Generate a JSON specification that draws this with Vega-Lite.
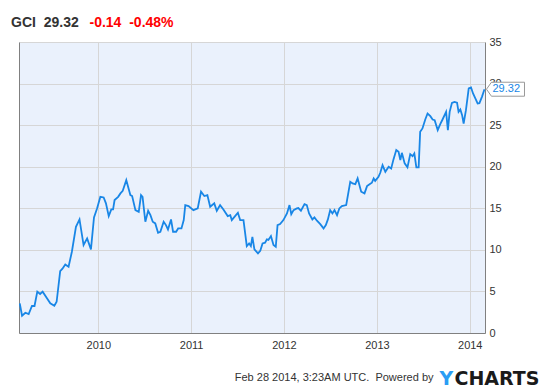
{
  "$schema": "https://vega.github.io/schema/vega-lite/v6.json",
  "autosize": {"type": "none"},
  "width": 466,
  "height": 291,
  "padding": {"left": 19, "top": 42, "right": 65, "bottom": 55},
  "background": "#ffffff",
  "config": {
    "view": {"fill": "#eaf1fc", "stroke": null},
    "font": "Liberation Sans"
  },
  "title": {
    "text": "GCI\u00a0\u00a029.32",
    "anchor": "start",
    "frame": "group",
    "orient": "top",
    "dx": -8,
    "dy": 14,
    "offset": 0,
    "font": "Liberation Sans",
    "fontSize": 14,
    "fontWeight": "bold",
    "color": "#333333"
  },
  "datasets": {
    "prices": [
      {"date": "2009-02-26", "close": 3.57},
      {"date": "2009-03-07", "close": 2.08},
      {"date": "2009-03-20", "close": 2.44},
      {"date": "2009-04-02", "close": 2.28},
      {"date": "2009-04-15", "close": 3.25},
      {"date": "2009-04-25", "close": 3.25},
      {"date": "2009-05-06", "close": 4.97},
      {"date": "2009-05-17", "close": 4.69},
      {"date": "2009-05-27", "close": 4.97},
      {"date": "2009-06-13", "close": 4.17},
      {"date": "2009-06-26", "close": 3.57},
      {"date": "2009-07-12", "close": 3.28},
      {"date": "2009-07-21", "close": 3.76},
      {"date": "2009-08-04", "close": 7.45},
      {"date": "2009-08-13", "close": 7.73},
      {"date": "2009-08-24", "close": 8.25},
      {"date": "2009-09-06", "close": 7.97},
      {"date": "2009-09-19", "close": 9.77},
      {"date": "2009-10-05", "close": 12.78},
      {"date": "2009-10-19", "close": 13.66},
      {"date": "2009-11-04", "close": 10.58},
      {"date": "2009-11-18", "close": 11.38},
      {"date": "2009-12-03", "close": 10.06},
      {"date": "2009-12-15", "close": 13.9},
      {"date": "2009-12-27", "close": 14.98},
      {"date": "2010-01-09", "close": 16.38},
      {"date": "2010-01-22", "close": 16.3},
      {"date": "2010-01-31", "close": 15.59},
      {"date": "2010-02-11", "close": 14.06},
      {"date": "2010-02-21", "close": 14.86},
      {"date": "2010-02-28", "close": 14.86},
      {"date": "2010-03-06", "close": 15.99},
      {"date": "2010-03-20", "close": 16.38},
      {"date": "2010-03-29", "close": 16.79},
      {"date": "2010-04-07", "close": 17.1},
      {"date": "2010-04-21", "close": 18.39},
      {"date": "2010-05-07", "close": 16.59},
      {"date": "2010-05-14", "close": 16.47},
      {"date": "2010-05-27", "close": 14.78},
      {"date": "2010-06-09", "close": 14.58},
      {"date": "2010-06-18", "close": 16.59},
      {"date": "2010-06-24", "close": 16.38},
      {"date": "2010-07-05", "close": 13.38},
      {"date": "2010-07-16", "close": 14.7},
      {"date": "2010-07-25", "close": 14.18},
      {"date": "2010-08-03", "close": 13.38},
      {"date": "2010-08-13", "close": 13.18},
      {"date": "2010-08-24", "close": 12.06},
      {"date": "2010-09-02", "close": 12.18},
      {"date": "2010-09-15", "close": 13.38},
      {"date": "2010-09-24", "close": 12.98},
      {"date": "2010-10-02", "close": 12.46},
      {"date": "2010-10-14", "close": 13.66},
      {"date": "2010-10-22", "close": 12.18},
      {"date": "2010-11-03", "close": 12.18},
      {"date": "2010-11-11", "close": 12.58},
      {"date": "2010-11-24", "close": 12.58},
      {"date": "2010-12-03", "close": 13.58},
      {"date": "2010-12-09", "close": 15.38},
      {"date": "2010-12-22", "close": 15.26},
      {"date": "2011-01-10", "close": 14.78},
      {"date": "2011-01-27", "close": 14.98},
      {"date": "2011-02-09", "close": 16.99},
      {"date": "2011-02-22", "close": 16.47},
      {"date": "2011-03-06", "close": 16.59},
      {"date": "2011-03-17", "close": 15.18},
      {"date": "2011-04-02", "close": 15.59},
      {"date": "2011-04-12", "close": 14.7},
      {"date": "2011-04-25", "close": 15.38},
      {"date": "2011-05-08", "close": 14.86},
      {"date": "2011-05-25", "close": 14.06},
      {"date": "2011-06-04", "close": 14.18},
      {"date": "2011-06-10", "close": 13.58},
      {"date": "2011-06-23", "close": 14.06},
      {"date": "2011-07-04", "close": 14.46},
      {"date": "2011-07-13", "close": 13.58},
      {"date": "2011-07-26", "close": 13.58},
      {"date": "2011-08-08", "close": 10.46},
      {"date": "2011-08-17", "close": 10.78},
      {"date": "2011-08-24", "close": 10.46},
      {"date": "2011-08-30", "close": 11.57},
      {"date": "2011-09-07", "close": 10.06},
      {"date": "2011-09-21", "close": 9.58},
      {"date": "2011-09-30", "close": 9.89},
      {"date": "2011-10-09", "close": 10.78},
      {"date": "2011-10-19", "close": 10.86},
      {"date": "2011-10-26", "close": 11.26},
      {"date": "2011-11-01", "close": 11.2},
      {"date": "2011-11-11", "close": 11.66},
      {"date": "2011-11-21", "close": 10.58},
      {"date": "2011-11-30", "close": 10.37},
      {"date": "2011-12-07", "close": 12.98},
      {"date": "2011-12-17", "close": 13.1},
      {"date": "2011-12-30", "close": 13.58},
      {"date": "2012-01-13", "close": 14.38},
      {"date": "2012-01-23", "close": 15.38},
      {"date": "2012-01-30", "close": 14.3},
      {"date": "2012-02-08", "close": 14.78},
      {"date": "2012-02-21", "close": 14.98},
      {"date": "2012-02-27", "close": 15.03},
      {"date": "2012-03-08", "close": 14.7},
      {"date": "2012-03-22", "close": 15.5},
      {"date": "2012-03-31", "close": 15.38},
      {"date": "2012-04-09", "close": 14.38},
      {"date": "2012-04-22", "close": 13.66},
      {"date": "2012-04-30", "close": 13.9},
      {"date": "2012-05-10", "close": 13.5},
      {"date": "2012-05-23", "close": 13.1},
      {"date": "2012-06-05", "close": 12.58},
      {"date": "2012-06-14", "close": 12.98},
      {"date": "2012-06-22", "close": 13.66},
      {"date": "2012-07-01", "close": 14.78},
      {"date": "2012-07-10", "close": 14.38},
      {"date": "2012-07-18", "close": 14.78},
      {"date": "2012-07-28", "close": 14.18},
      {"date": "2012-08-06", "close": 14.98},
      {"date": "2012-08-16", "close": 15.26},
      {"date": "2012-09-02", "close": 15.38},
      {"date": "2012-09-18", "close": 18.19},
      {"date": "2012-09-27", "close": 17.99},
      {"date": "2012-10-08", "close": 17.9},
      {"date": "2012-10-17", "close": 18.59},
      {"date": "2012-10-31", "close": 16.99},
      {"date": "2012-11-13", "close": 16.79},
      {"date": "2012-11-23", "close": 17.67},
      {"date": "2012-12-03", "close": 17.9},
      {"date": "2012-12-12", "close": 18.07},
      {"date": "2012-12-19", "close": 18.59},
      {"date": "2012-12-25", "close": 18.3},
      {"date": "2013-01-07", "close": 18.79},
      {"date": "2013-01-14", "close": 19.27},
      {"date": "2013-01-23", "close": 20.19},
      {"date": "2013-02-03", "close": 19.39},
      {"date": "2013-02-16", "close": 19.99},
      {"date": "2013-02-26", "close": 19.79},
      {"date": "2013-03-07", "close": 20.88},
      {"date": "2013-03-18", "close": 22.0},
      {"date": "2013-03-27", "close": 21.79},
      {"date": "2013-04-03", "close": 20.79},
      {"date": "2013-04-09", "close": 21.67},
      {"date": "2013-04-20", "close": 20.4},
      {"date": "2013-05-01", "close": 19.92},
      {"date": "2013-05-12", "close": 21.51},
      {"date": "2013-05-21", "close": 21.27},
      {"date": "2013-05-28", "close": 21.6},
      {"date": "2013-06-05", "close": 19.92},
      {"date": "2013-06-14", "close": 19.92},
      {"date": "2013-06-20", "close": 24.2},
      {"date": "2013-06-29", "close": 24.6},
      {"date": "2013-07-10", "close": 25.68},
      {"date": "2013-07-19", "close": 26.4},
      {"date": "2013-07-30", "close": 26.08},
      {"date": "2013-08-08", "close": 25.68},
      {"date": "2013-08-16", "close": 25.6},
      {"date": "2013-08-28", "close": 24.4},
      {"date": "2013-09-07", "close": 25.12},
      {"date": "2013-09-16", "close": 25.68},
      {"date": "2013-09-30", "close": 26.6},
      {"date": "2013-10-07", "close": 24.4},
      {"date": "2013-10-14", "close": 26.6},
      {"date": "2013-10-23", "close": 27.68},
      {"date": "2013-11-02", "close": 27.8},
      {"date": "2013-11-12", "close": 27.7},
      {"date": "2013-11-18", "close": 26.6},
      {"date": "2013-11-25", "close": 26.89},
      {"date": "2013-12-02", "close": 26.2},
      {"date": "2013-12-08", "close": 25.2},
      {"date": "2013-12-17", "close": 26.8},
      {"date": "2013-12-28", "close": 29.41},
      {"date": "2014-01-06", "close": 29.53},
      {"date": "2014-01-14", "close": 28.81},
      {"date": "2014-01-23", "close": 28.21},
      {"date": "2014-02-01", "close": 27.61},
      {"date": "2014-02-08", "close": 27.65},
      {"date": "2014-02-18", "close": 28.4},
      {"date": "2014-02-28", "close": 29.32}
    ],
    "last": [
      {"date": "2014-02-28", "close": 29.32, "label": "29.32"}
    ]
  },
  "resolve": {"axis": {"x": "independent", "y": "independent"}},
  "layer": [
    {
      "data": {"name": "prices"},
      "mark": {"type": "line", "color": "#1886e6", "strokeWidth": 1.8, "clip": true},
      "encoding": {
        "x": {
          "field": "date",
          "type": "temporal",
          "scale": {
            "type": "utc",
            "domain": [
              {"year": 2009, "month": 2, "date": 23, "utc": true},
              {"year": 2014, "month": 3, "date": 2, "utc": true}
            ],
            "nice": false
          },
          "axis": {
            "orient": "bottom",
            "tickCount": {"interval": "year", "step": 1},
            "format": "%Y",
            "labelFont": "Liberation Sans",
            "labelFontSize": 11,
            "labelColor": "#333333",
            "labelPadding": 6,
            "labelFlush": false,
            "ticks": false,
            "grid": true,
            "gridColor": "#d6d6d6",
            "gridWidth": 1,
            "domain": true,
            "domainColor": "#808080",
            "domainWidth": 1,
            "title": "Feb 28 2014, 3:23AM UTC.\u00a0\u00a0Powered by",
            "titleX": 414,
            "titleY": 47,
            "titleAlign": "right",
            "titleBaseline": "alphabetic",
            "titleAngle": 0,
            "titleFont": "Liberation Sans",
            "titleFontSize": 11,
            "titleFontWeight": "normal",
            "titleColor": "#333333"
          }
        },
        "y": {
          "field": "close",
          "type": "quantitative",
          "scale": {"domain": [0, 35], "nice": false, "zero": true},
          "axis": {
            "orient": "right",
            "values": [0, 5, 10, 15, 20, 25, 30, 35],
            "labelFont": "Liberation Sans",
            "labelFontSize": 11,
            "labelColor": "#333333",
            "labelPadding": 4,
            "labelBaseline": "middle",
            "ticks": false,
            "grid": true,
            "gridColor": "#d6d6d6",
            "gridWidth": 1,
            "domain": true,
            "domainColor": "#808080",
            "domainWidth": 1,
            "title": "CHARTS",
            "titleX": -31,
            "titleY": 342,
            "titleAngle": 0,
            "titleAlign": "left",
            "titleBaseline": "alphabetic",
            "titleFont": "DejaVu Sans",
            "titleFontSize": 19,
            "titleFontWeight": "bold",
            "titleColor": "#1a1a1a"
          }
        }
      }
    },
    {
      "data": {"name": "last"},
      "mark": {
        "type": "point",
        "shape": "M0,0L0.13,-0.184L1,-0.184L1,0.184L0.13,0.184Z",
        "size": 5776,
        "filled": true,
        "fill": "#ffffff",
        "stroke": "#999999",
        "strokeWidth": 1,
        "opacity": 1,
        "xOffset": 2,
        "clip": false
      },
      "encoding": {
        "x": {
          "field": "date",
          "type": "temporal",
          "axis": {
            "orient": "top",
            "labels": false,
            "ticks": false,
            "grid": false,
            "domain": false,
            "title": "-0.14\u00a0\u00a0-0.48%",
            "titleX": 70,
            "titleY": -15.5,
            "titleAngle": 0,
            "titleAlign": "left",
            "titleBaseline": "alphabetic",
            "titleFont": "Liberation Sans",
            "titleFontSize": 14,
            "titleFontWeight": "bold",
            "titleColor": "#ff0000"
          }
        },
        "y": {
          "field": "close",
          "type": "quantitative",
          "axis": {
            "orient": "left",
            "labels": false,
            "ticks": false,
            "grid": false,
            "domain": true,
            "domainColor": "#808080",
            "domainWidth": 1,
            "title": "Y",
            "titleX": 420,
            "titleY": 342,
            "titleAngle": 0,
            "titleAlign": "left",
            "titleBaseline": "alphabetic",
            "titleFont": "DejaVu Sans",
            "titleFontSize": 19,
            "titleFontWeight": "bold",
            "titleColor": "#2a9df4"
          }
        }
      }
    },
    {
      "data": {"name": "last"},
      "mark": {
        "type": "text",
        "align": "left",
        "baseline": "middle",
        "dx": 8,
        "font": "Liberation Sans",
        "fontSize": 11,
        "color": "#1886e6",
        "clip": false
      },
      "encoding": {
        "x": {"field": "date", "type": "temporal", "axis": null},
        "y": {"field": "close", "type": "quantitative", "axis": null},
        "text": {"field": "label"}
      }
    }
  ]
}
